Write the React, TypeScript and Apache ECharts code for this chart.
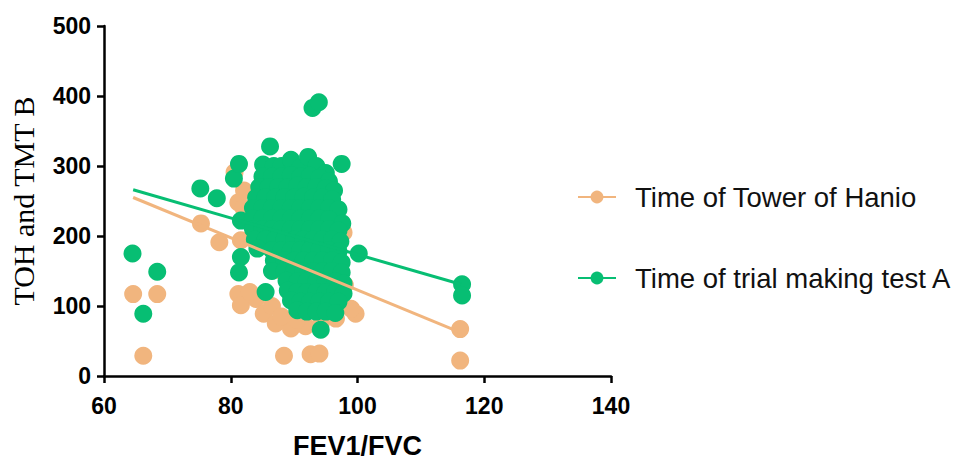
import React, { useEffect, useRef } from "react";
import * as echarts from "echarts";

const seriesNames = ["Time of Tower of Hanio", "Time of trial making test A"];
const colors = ["#F1B57E", "#07BE73"];

// Time of Tower of Hanio (FEV1/FVC, seconds)
const tohPoints: [number, number][] = [
  [64.6, 117], [68.4, 117], [66.2, 29], [75.3, 218], [78.2, 191],
  [116.2, 67], [116.2, 22], [99.7, 89], [88.4, 29], [92.6, 31], [94.0, 32],
  [81.2, 117], [81.6, 101], [84, 110], [85.2, 89], [87.1, 75], [89.5, 68],
  [91.8, 71], [94.2, 75], [96.6, 82], [99, 96], [86.5, 100], [83, 120],
  [90.5, 80], [88, 85], [81.6, 194], [81.2, 248], [80.6, 291], [82.1, 265],
  [97.8, 205], [82, 240], [84, 260], [86, 210], [90, 230], [92, 180],
  [95, 150], [93, 120], [88, 150], [91, 260], [94, 200], [96.5, 120], [98, 130],
];

// Time of trial making test A (FEV1/FVC, seconds)
const tmtPoints: [number, number][] = [
  [64.5, 175], [68.4, 149], [66.2, 89], [75.2, 268], [77.8, 254],
  [80.5, 282], [81.3, 303], [86.2, 328], [92.9, 383], [93.9, 391],
  [97.5, 303], [100.2, 175], [94.2, 66], [116.5, 131], [116.5, 115],
  [81.6, 170], [81.3, 148], [85.5, 120], [81.6, 222],
  // dense cluster
  [85.1, 302], [86.8, 300], [88, 300], [89.5, 309], [91, 298], [92.2, 313],
  [93.5, 300], [95, 290],
  [85, 285], [86.5, 285], [88, 285], [89.5, 287], [91, 285], [92.5, 286], [94, 283], [95.5, 278],
  [84.5, 270], [86, 270], [87.5, 270], [89, 270], [90.5, 272], [92, 270], [93.5, 270], [95, 268], [96.3, 265],
  [84, 255], [85.5, 255], [87, 255], [88.5, 255], [90, 255], [91.5, 256], [93, 255], [94.5, 255], [96, 252],
  [83.5, 240], [85, 240], [86.5, 240], [88, 240], [89.5, 240], [91, 240], [92.5, 240], [94, 240], [95.5, 240], [97, 238],
  [83.5, 225], [85, 225], [86.5, 225], [88, 225], [89.5, 225], [91, 225], [92.5, 225], [94, 225], [95.5, 224], [97.6, 218],
  [83.5, 210], [85, 210], [86.5, 210], [88, 210], [89.5, 210], [91, 210], [92.5, 210], [94, 210], [95.5, 210], [97, 208],
  [83.8, 195], [85.5, 195], [87, 195], [88.5, 195], [90, 195], [91.5, 195], [93, 195], [94.5, 195], [96, 195], [97.3, 192],
  [84.2, 182], [86.5, 180], [88, 180], [89.5, 180], [91, 180], [92.5, 180], [94, 180], [95.5, 180], [97, 178],
  [86.8, 165], [88.5, 165], [90, 165], [91.5, 165], [93, 165], [94.5, 165], [96, 165], [97.5, 162],
  [86.5, 150], [88.5, 150], [90, 150], [91.5, 150], [93, 150], [94.5, 150], [96, 150], [97.5, 148],
  [88.8, 136], [90.5, 135], [92, 135], [93.5, 135], [95, 135], [96.5, 135], [97.8, 132],
  [89, 122], [90.5, 120], [92, 120], [93.5, 120], [95, 120], [96.5, 120], [97.8, 118],
  [89.5, 108], [91, 106], [92.5, 106], [94, 106], [95.5, 106], [97, 106],
  [90.5, 94], [92, 92], [93.5, 92], [95, 92], [96.5, 90],
];

// Linear regression lines (endpoints)
const fitX = [64.6, 116.3];
const tohFitY = [255, 62];
const tmtFitY = [266, 131];

export default function App() {
  const ref = useRef<HTMLDivElement>(null);
  useEffect(() => {
    if (!ref.current) return;
    const chart = echarts.init(ref.current, null, { renderer: "svg" });
    const axisCommon = {
      axisLine: { lineStyle: { color: "#000", width: 2.5 } },
      axisTick: { show: true, length: 7, lineStyle: { color: "#000", width: 2.5 } },
      splitLine: { show: false },
      axisLabel: {
        color: "#000",
        fontFamily: "Liberation Sans, Arial, sans-serif",
        fontWeight: "bold" as const,
        fontSize: 23,
      },
    };
    chart.setOption({
      animation: false,
      backgroundColor: "#fff",
      grid: { left: 101, right: 350, top: 26, bottom: 80 },
      xAxis: {
        type: "value",
        min: 60,
        max: 140,
        interval: 20,
        name: "FEV1/FVC",
        nameLocation: "middle",
        nameGap: 56,
        nameTextStyle: {
          color: "#000",
          fontFamily: "Liberation Sans, Arial, sans-serif",
          fontWeight: "bold",
          fontSize: 27,
        },
        ...axisCommon,
        axisLabel: { ...axisCommon.axisLabel, margin: 18 },
      },
      yAxis: {
        type: "value",
        min: 0,
        max: 500,
        interval: 100,
        name: "TOH and TMT B",
        nameLocation: "middle",
        nameGap: 66,
        nameTextStyle: {
          color: "#000",
          fontFamily: "Liberation Serif, Times New Roman, serif",
          fontSize: 30,
        },
        ...axisCommon,
        axisLabel: { ...axisCommon.axisLabel, margin: 13 },
      },
      legend: {
        orient: "vertical",
        left: 572,
        top: 178,
        itemGap: 53,
        itemWidth: 38,
        itemHeight: 16,
        data: seriesNames,
        textStyle: {
          color: "#111",
          fontFamily: "Liberation Sans, Arial, sans-serif",
          fontSize: 27.5,
          padding: [0, 0, 0, 14],
        },
      },
      series: [
        {
          name: seriesNames[0],
          type: "line",
          data: fitX.map((x, i) => [x, tohFitY[i]]),
          showSymbol: false,
          symbol: "circle",
          symbolSize: 14,
          lineStyle: { color: colors[0], width: 3 },
          itemStyle: { color: colors[0] },
          z: 4,
        },
        {
          name: seriesNames[1],
          type: "line",
          data: fitX.map((x, i) => [x, tmtFitY[i]]),
          showSymbol: false,
          symbol: "circle",
          symbolSize: 14,
          lineStyle: { color: colors[1], width: 3 },
          itemStyle: { color: colors[1] },
          z: 5,
        },
        {
          name: seriesNames[0],
          type: "scatter",
          data: tohPoints,
          symbol: "circle",
          symbolSize: 18,
          itemStyle: { color: colors[0], opacity: 1 },
          z: 2,
        },
        {
          name: seriesNames[1],
          type: "scatter",
          data: tmtPoints,
          symbol: "circle",
          symbolSize: 18,
          itemStyle: { color: colors[1], opacity: 1 },
          z: 3,
        },
      ],
    });
    return () => chart.dispose();
  }, []);
  return (
    <div
      ref={ref}
      style={{ position: "fixed", left: 0, top: 0, width: 961, height: 464 }}
    />
  );
}
